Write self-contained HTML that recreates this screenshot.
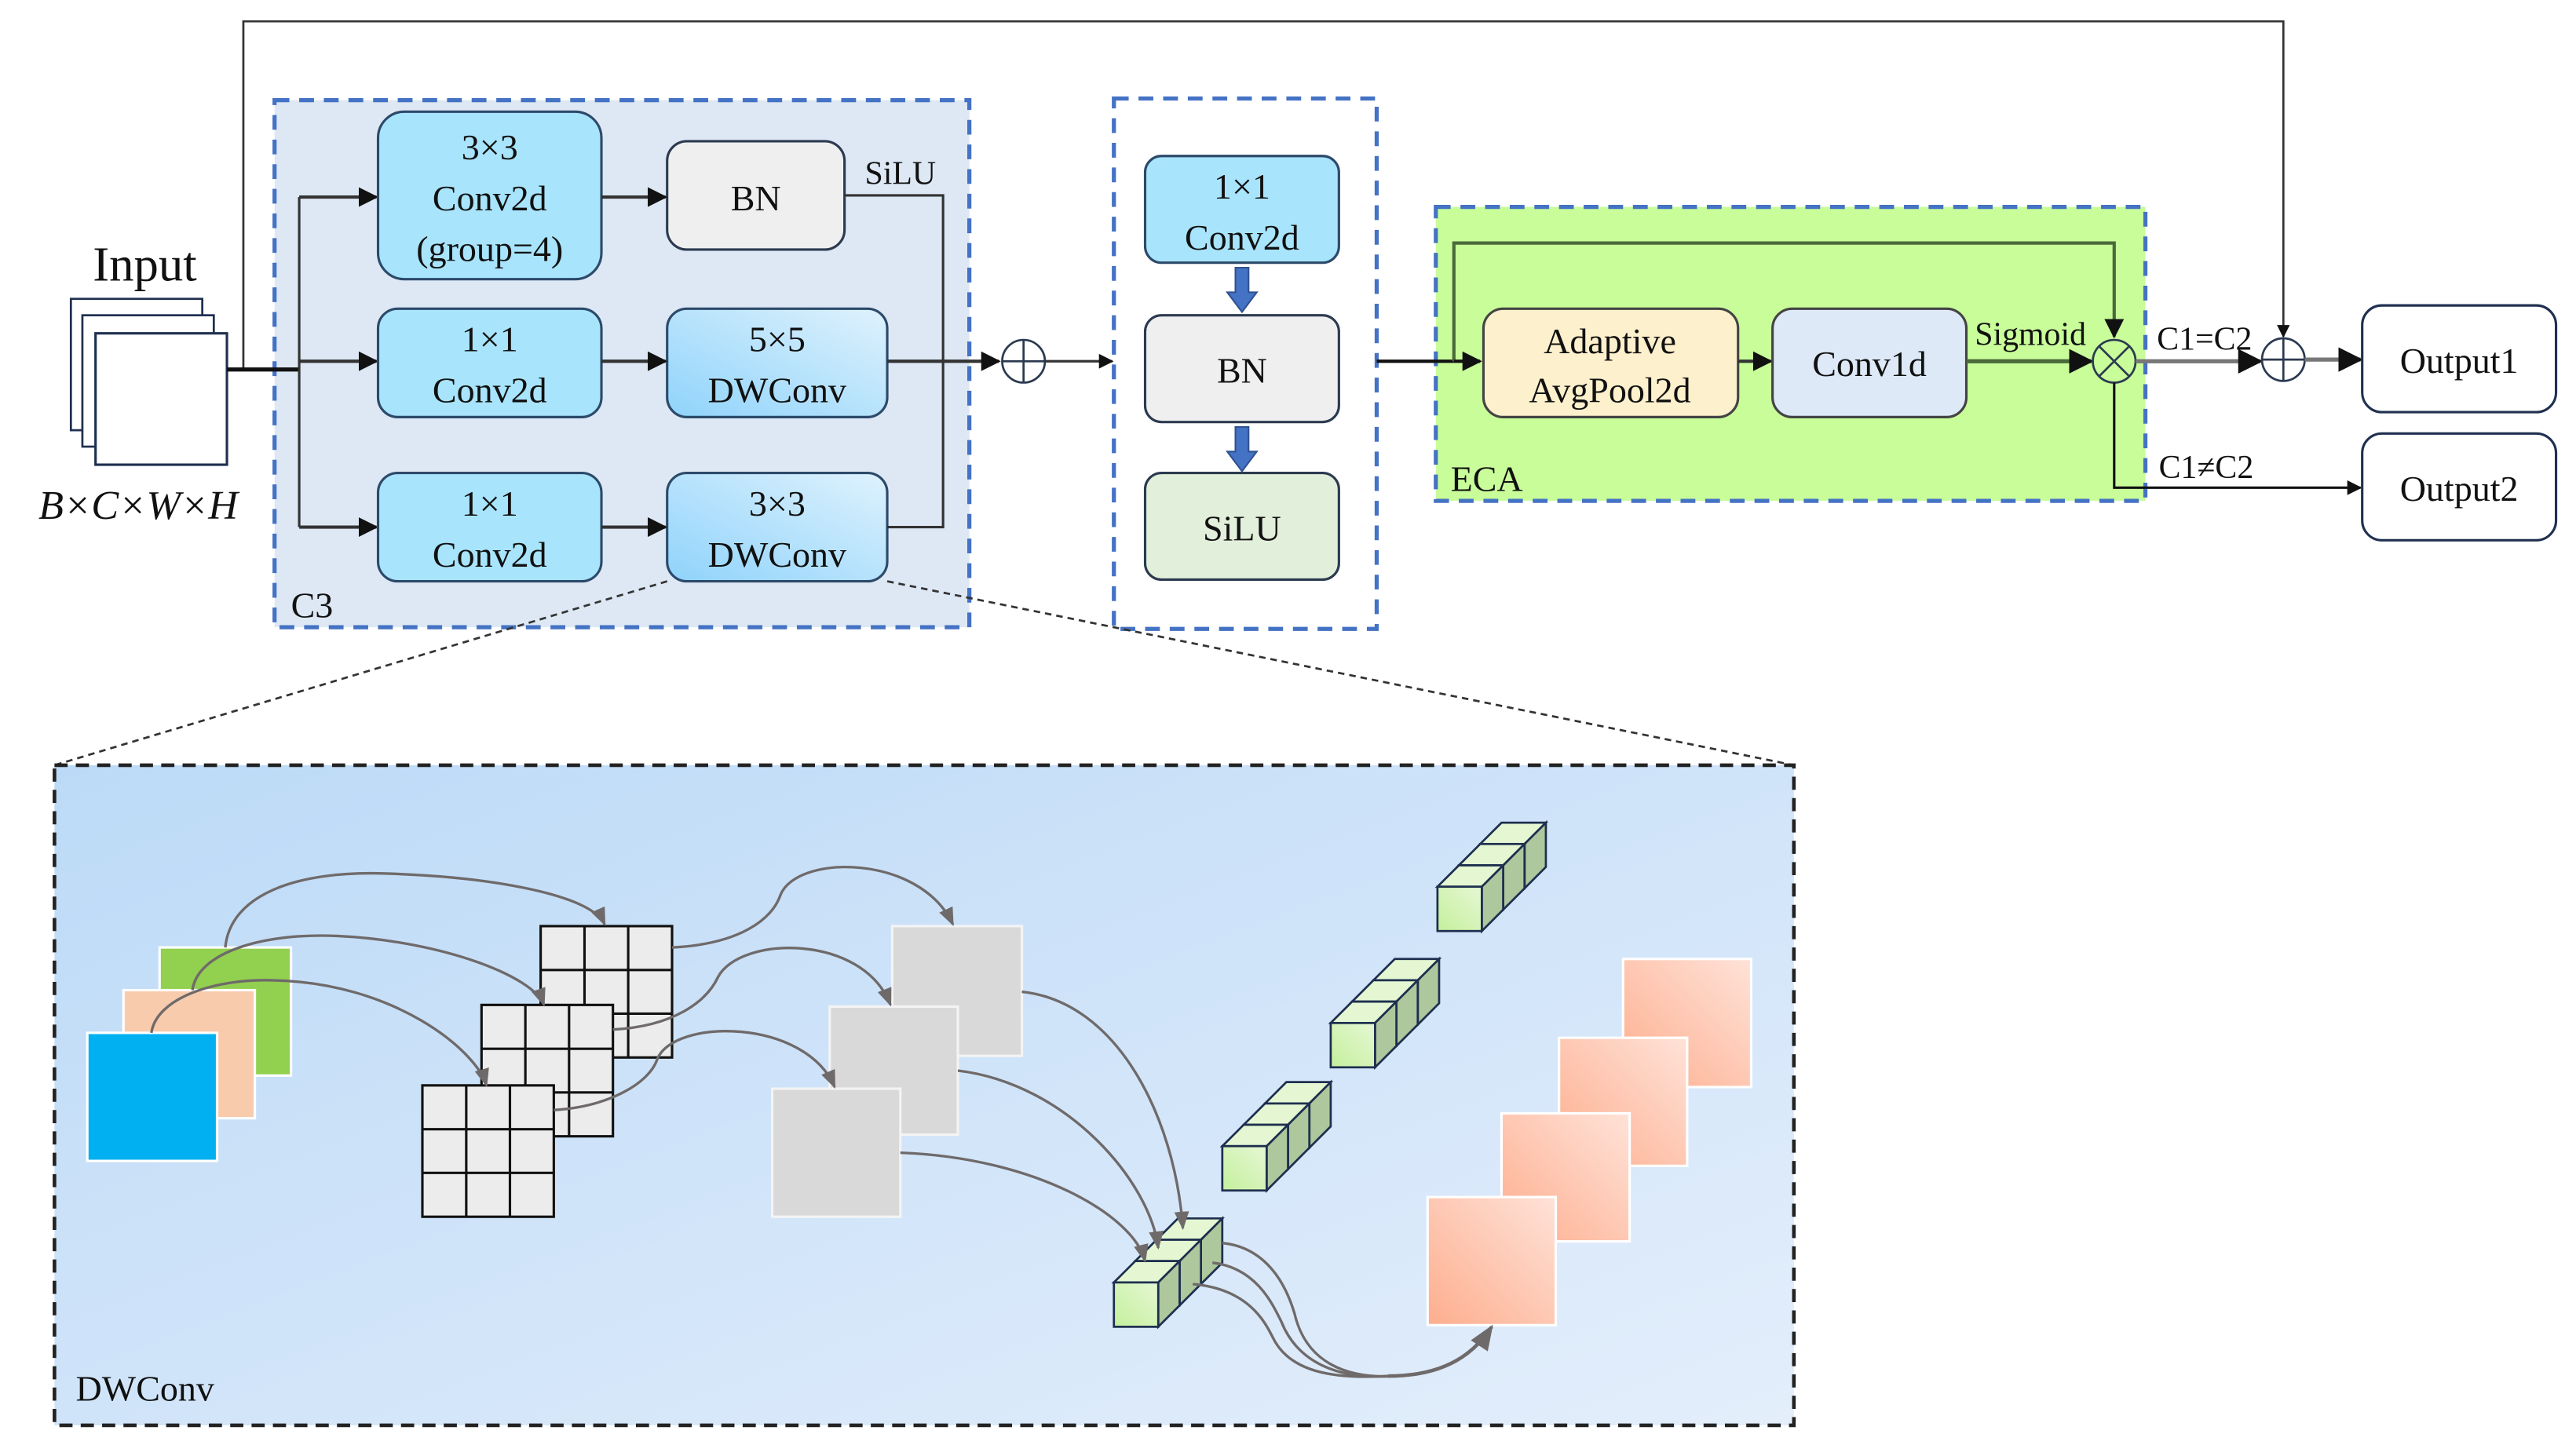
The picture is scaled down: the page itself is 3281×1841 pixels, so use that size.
<!DOCTYPE html>
<html><head><meta charset="utf-8"><style>
html,body{margin:0;padding:0;background:#fff;}
svg{display:block;}
text{font-family:"Liberation Serif",serif;fill:#111;}
</style></head><body>
<svg width="3281" height="1841" viewBox="0 0 1568 880" xmlns="http://www.w3.org/2000/svg">
<defs>
<marker id="ar" viewBox="0 0 10 10" refX="9" refY="5" markerWidth="6" markerHeight="6" orient="auto"><path d="M0,0L10,5L0,10z" fill="#111"/></marker>
<marker id="ga" viewBox="0 0 10 10" refX="9" refY="5" markerWidth="7" markerHeight="7" orient="auto"><path d="M0,1L10,5L0,9z" fill="#6f6a6a"/></marker>
<linearGradient id="dw" x1="0" y1="1" x2="1" y2="0"><stop offset="0" stop-color="#8fd3fb"/><stop offset="1" stop-color="#dff2fd"/></linearGradient>
<linearGradient id="bg" x1="0" y1="0" x2="1" y2="1"><stop offset="0" stop-color="#bcdaf7"/><stop offset="1" stop-color="#e4eefb"/></linearGradient>
<linearGradient id="pk" x1="0" y1="1" x2="1" y2="0"><stop offset="0" stop-color="#fdae8e"/><stop offset="1" stop-color="#ffe2d8"/></linearGradient>
<linearGradient id="cf" x1="0" y1="1" x2="1" y2="0"><stop offset="0" stop-color="#c4f09c"/><stop offset="1" stop-color="#e6f7d4"/></linearGradient>
<g id="cube">
<polygon points="0,0 13,-13 40,-13 27,0" fill="#e4f7d2" stroke="#1e2f4f" stroke-width="1.3"/>
<polygon points="27,0 40,-13 40,14 27,27" fill="#aec79c" stroke="#1e2f4f" stroke-width="1.3"/>
<rect x="0" y="0" width="27" height="27" fill="url(#cf)" stroke="#1e2f4f" stroke-width="1.3"/>
</g>
<g id="row"><use href="#cube" x="26" y="-26"/><use href="#cube" x="13" y="-13"/><use href="#cube" x="0" y="0"/></g>
<g id="grid"><rect width="80" height="80" fill="#ececec" stroke="#111" stroke-width="1.5"/>
<path d="M26.7,0V80M53.3,0V80M0,26.7H80M0,53.3H80" stroke="#111" stroke-width="1.5"/></g>
</defs>

<path d="M148,225V13H1390V205" fill="none" stroke="#333" stroke-width="1.3" marker-end="url(#ar)"/>

<text x="88" y="171" font-size="30" text-anchor="middle">Input</text>
<rect x="43" y="182" width="80" height="80" fill="#fff" stroke="#1f3050" stroke-width="1.3"/>
<rect x="50" y="192" width="80" height="80" fill="#fff" stroke="#1f3050" stroke-width="1.3"/>
<rect x="58" y="203" width="80" height="80" fill="#fff" stroke="#1f3050" stroke-width="1.5"/>
<text x="84" y="316" font-size="25" font-style="italic" text-anchor="middle">B×C×W×H</text>

<rect x="167" y="61" width="423" height="321" fill="#dde8f4" stroke="#4472c4" stroke-width="2.5" stroke-dasharray="9,6"/>
<text x="177" y="376" font-size="22">C3</text>
<path d="M138,225H182" stroke="#111" stroke-width="2.5"/>
<path d="M182,120V321" stroke="#333" stroke-width="1.5"/>
<path d="M182,120H229" stroke="#333" stroke-width="2" marker-end="url(#ar)"/>
<path d="M182,220H229" stroke="#333" stroke-width="2" marker-end="url(#ar)"/>
<path d="M182,321H229" stroke="#333" stroke-width="2" marker-end="url(#ar)"/>
<rect x="230" y="68" width="136" height="102" rx="16" fill="#a8e4fb" stroke="#2c4a6a" stroke-width="1.5"/>
<text x="298" y="97" font-size="22" text-anchor="middle">3×3</text>
<text x="298" y="128" font-size="22" text-anchor="middle">Conv2d</text>
<text x="298" y="159" font-size="22" text-anchor="middle">(group=4)</text>
<rect x="406" y="86" width="108" height="66" rx="12" fill="#efefef" stroke="#2c3a50" stroke-width="1.5"/>
<text x="460" y="128" font-size="22" text-anchor="middle">BN</text>
<path d="M366,120H405" stroke="#333" stroke-width="2" marker-end="url(#ar)"/>
<rect x="230" y="188" width="136" height="66" rx="12" fill="#a8e4fb" stroke="#2c4a6a" stroke-width="1.5"/>
<text x="298" y="214" font-size="22" text-anchor="middle">1×1</text>
<text x="298" y="245" font-size="22" text-anchor="middle">Conv2d</text>
<rect x="406" y="188" width="134" height="66" rx="12" fill="url(#dw)" stroke="#2c4a6a" stroke-width="1.5"/>
<text x="473" y="214" font-size="22" text-anchor="middle">5×5</text>
<text x="473" y="245" font-size="22" text-anchor="middle">DWConv</text>
<path d="M366,220H405" stroke="#333" stroke-width="2" marker-end="url(#ar)"/>
<rect x="230" y="288" width="136" height="66" rx="12" fill="#a8e4fb" stroke="#2c4a6a" stroke-width="1.5"/>
<text x="298" y="314" font-size="22" text-anchor="middle">1×1</text>
<text x="298" y="345" font-size="22" text-anchor="middle">Conv2d</text>
<rect x="406" y="288" width="134" height="66" rx="12" fill="url(#dw)" stroke="#2c4a6a" stroke-width="1.5"/>
<text x="473" y="314" font-size="22" text-anchor="middle">3×3</text>
<text x="473" y="345" font-size="22" text-anchor="middle">DWConv</text>
<path d="M366,321H405" stroke="#333" stroke-width="2" marker-end="url(#ar)"/>
<text x="548" y="112" font-size="20" text-anchor="middle">SiLU</text>
<path d="M514,119H574V321H540" fill="none" stroke="#333" stroke-width="1.5"/>
<path d="M540,220H608" stroke="#333" stroke-width="2" marker-end="url(#ar)"/>
<circle cx="623" cy="220" r="13" fill="none" stroke="#2c3a50" stroke-width="1.3"/>
<path d="M623,207V233M610,220H636" stroke="#2c3a50" stroke-width="1.3"/>
<path d="M636,220H677" stroke="#333" stroke-width="1.5" marker-end="url(#ar)"/>

<rect x="678" y="60" width="160" height="323" fill="#fff" stroke="#4472c4" stroke-width="2.5" stroke-dasharray="9,6"/>
<rect x="697" y="95" width="118" height="65" rx="10" fill="#a8e4fb" stroke="#2c4a6a" stroke-width="1.5"/>
<text x="756" y="121" font-size="22" text-anchor="middle">1×1</text>
<text x="756" y="152" font-size="22" text-anchor="middle">Conv2d</text>
<rect x="697" y="192" width="118" height="65" rx="10" fill="#efefef" stroke="#2c3a50" stroke-width="1.5"/>
<text x="756" y="233" font-size="22" text-anchor="middle">BN</text>
<rect x="697" y="288" width="118" height="65" rx="10" fill="#e2efda" stroke="#2c3a50" stroke-width="1.5"/>
<text x="756" y="329" font-size="22" text-anchor="middle">SiLU</text>
<path d="M752,163h8v15h5l-9,12l-9,-12h5z" fill="#4472c4" stroke="#2f528f"/>
<path d="M752,260h8v15h5l-9,12l-9,-12h5z" fill="#4472c4" stroke="#2f528f"/>

<rect x="874" y="126" width="432" height="179" fill="#c8fd9a" stroke="#4472c4" stroke-width="2.5" stroke-dasharray="9,6"/>
<text x="883" y="299" font-size="22">ECA</text>
<path d="M838,220H885" stroke="#111" stroke-width="2"/>
<path d="M885,220V148H1287V205" fill="none" stroke="#4a6a3a" stroke-width="2" marker-end="url(#ar)"/>
<path d="M885,220H901" stroke="#111" stroke-width="2" marker-end="url(#ar)"/>
<rect x="903" y="188" width="155" height="66" rx="12" fill="#fdf0cc" stroke="#444" stroke-width="1.5"/>
<text x="980" y="215" font-size="22" text-anchor="middle">Adaptive</text>
<text x="980" y="245" font-size="22" text-anchor="middle">AvgPool2d</text>
<path d="M1058,220H1078" stroke="#333" stroke-width="2" marker-end="url(#ar)"/>
<rect x="1079" y="188" width="118" height="66" rx="12" fill="#dde9f6" stroke="#444" stroke-width="1.5"/>
<text x="1138" y="229" font-size="22" text-anchor="middle">Conv1d</text>
<text x="1236" y="210" font-size="20" text-anchor="middle">Sigmoid</text>
<path d="M1197,220H1273" stroke="#4a6a3a" stroke-width="2.5" marker-end="url(#ar)"/>
<circle cx="1287" cy="220" r="13" fill="none" stroke="#2c3a50" stroke-width="1.3"/>
<path d="M1278,211L1296,229M1296,211L1278,229" stroke="#2c3a50" stroke-width="1.3"/>
<path d="M1300,220H1376" stroke="#777" stroke-width="2.5" marker-end="url(#ar)"/>
<text x="1342" y="213" font-size="20" text-anchor="middle">C1=C2</text>
<circle cx="1390" cy="219" r="13" fill="none" stroke="#2c3a50" stroke-width="1.3"/>
<path d="M1390,206V232M1377,219H1403" stroke="#2c3a50" stroke-width="1.3"/>
<path d="M1403,219H1437" stroke="#777" stroke-width="2.5" marker-end="url(#ar)"/>
<path d="M1287,233V297H1437" fill="none" stroke="#111" stroke-width="1.5" marker-end="url(#ar)"/>
<text x="1343" y="291" font-size="20" text-anchor="middle">C1≠C2</text>
<rect x="1438" y="186" width="118" height="65" rx="12" fill="#fff" stroke="#1f3050" stroke-width="1.5"/>
<text x="1497" y="227" font-size="22" text-anchor="middle">Output1</text>
<rect x="1438" y="264" width="118" height="65" rx="12" fill="#fff" stroke="#1f3050" stroke-width="1.5"/>
<text x="1497" y="305" font-size="22" text-anchor="middle">Output2</text>

<path d="M406,354L33,466M540,354L1092,466" stroke="#333" stroke-width="1.3" stroke-dasharray="4,3"/>

<rect x="33" y="466" width="1059" height="402" fill="url(#bg)" stroke="#222" stroke-width="2.2" stroke-dasharray="8,5"/>
<text x="46" y="853" font-size="22">DWConv</text>

<rect x="97" y="577" width="80" height="78" fill="#92d050" stroke="#fff" stroke-width="1.5"/>
<rect x="75" y="603" width="80" height="78" fill="#f8cbad" stroke="#fff" stroke-width="1.5"/>
<rect x="53" y="629" width="79" height="78" fill="#00b0f0" stroke="#fff" stroke-width="1.5"/>

<use href="#grid" x="329" y="564"/>
<use href="#grid" x="293" y="612"/>
<use href="#grid" x="257" y="661"/>

<rect x="543" y="564" width="79" height="79" fill="#d9d9d9" stroke="#f4f4f4" stroke-width="1.5"/>
<rect x="505" y="613" width="78" height="78" fill="#d9d9d9" stroke="#f4f4f4" stroke-width="1.5"/>
<rect x="470" y="663" width="78" height="78" fill="#d9d9d9" stroke="#f4f4f4" stroke-width="1.5"/>

<use href="#row" x="875" y="540"/>
<use href="#row" x="810" y="623"/>
<use href="#row" x="744" y="698"/>
<use href="#row" x="678" y="781"/>

<rect x="988" y="584" width="78" height="78" fill="url(#pk)" stroke="#fff" stroke-width="1.5"/>
<rect x="949" y="632" width="78" height="78" fill="url(#pk)" stroke="#fff" stroke-width="1.5"/>
<rect x="914" y="678" width="78" height="78" fill="url(#pk)" stroke="#fff" stroke-width="1.5"/>
<rect x="869" y="729" width="78" height="78" fill="url(#pk)" stroke="#fff" stroke-width="1.5"/>

<g fill="none" stroke="#6f6a6a" stroke-width="1.6">
<path d="M137,577C140,545 180,530 235,532C300,534 360,545 368,563" marker-end="url(#ga)"/>
<path d="M117,603C120,580 160,568 205,570C270,573 325,595 331,612" marker-end="url(#ga)"/>
<path d="M92,629C95,608 130,596 165,597C240,598 290,640 296,661" marker-end="url(#ga)"/>
<path d="M409,577C450,575 470,560 475,545C485,520 560,520 580,563" marker-end="url(#ga)"/>
<path d="M373,627C410,625 430,610 437,595C450,570 525,568 542,612" marker-end="url(#ga)"/>
<path d="M337,676C370,674 395,660 400,645C410,620 490,620 508,662" marker-end="url(#ga)"/>
<path d="M622,604C680,610 715,680 720,748" marker-end="url(#ga)"/>
<path d="M583,652C650,660 700,720 705,760" marker-end="url(#ga)"/>
<path d="M548,702C630,705 690,740 697,768" marker-end="url(#ga)"/>
<path d="M744,757C775,760 785,790 788,800C795,830 820,840 850,838"/>
<path d="M738,769C765,772 775,795 780,805C790,830 815,840 845,838"/>
<path d="M726,782C760,785 770,805 775,815C785,835 810,840 845,838"/>
<path d="M845,838C875,838 895,828 908,808" stroke-width="2.2" marker-end="url(#ga)"/>
</g>
</svg>
</body></html>
